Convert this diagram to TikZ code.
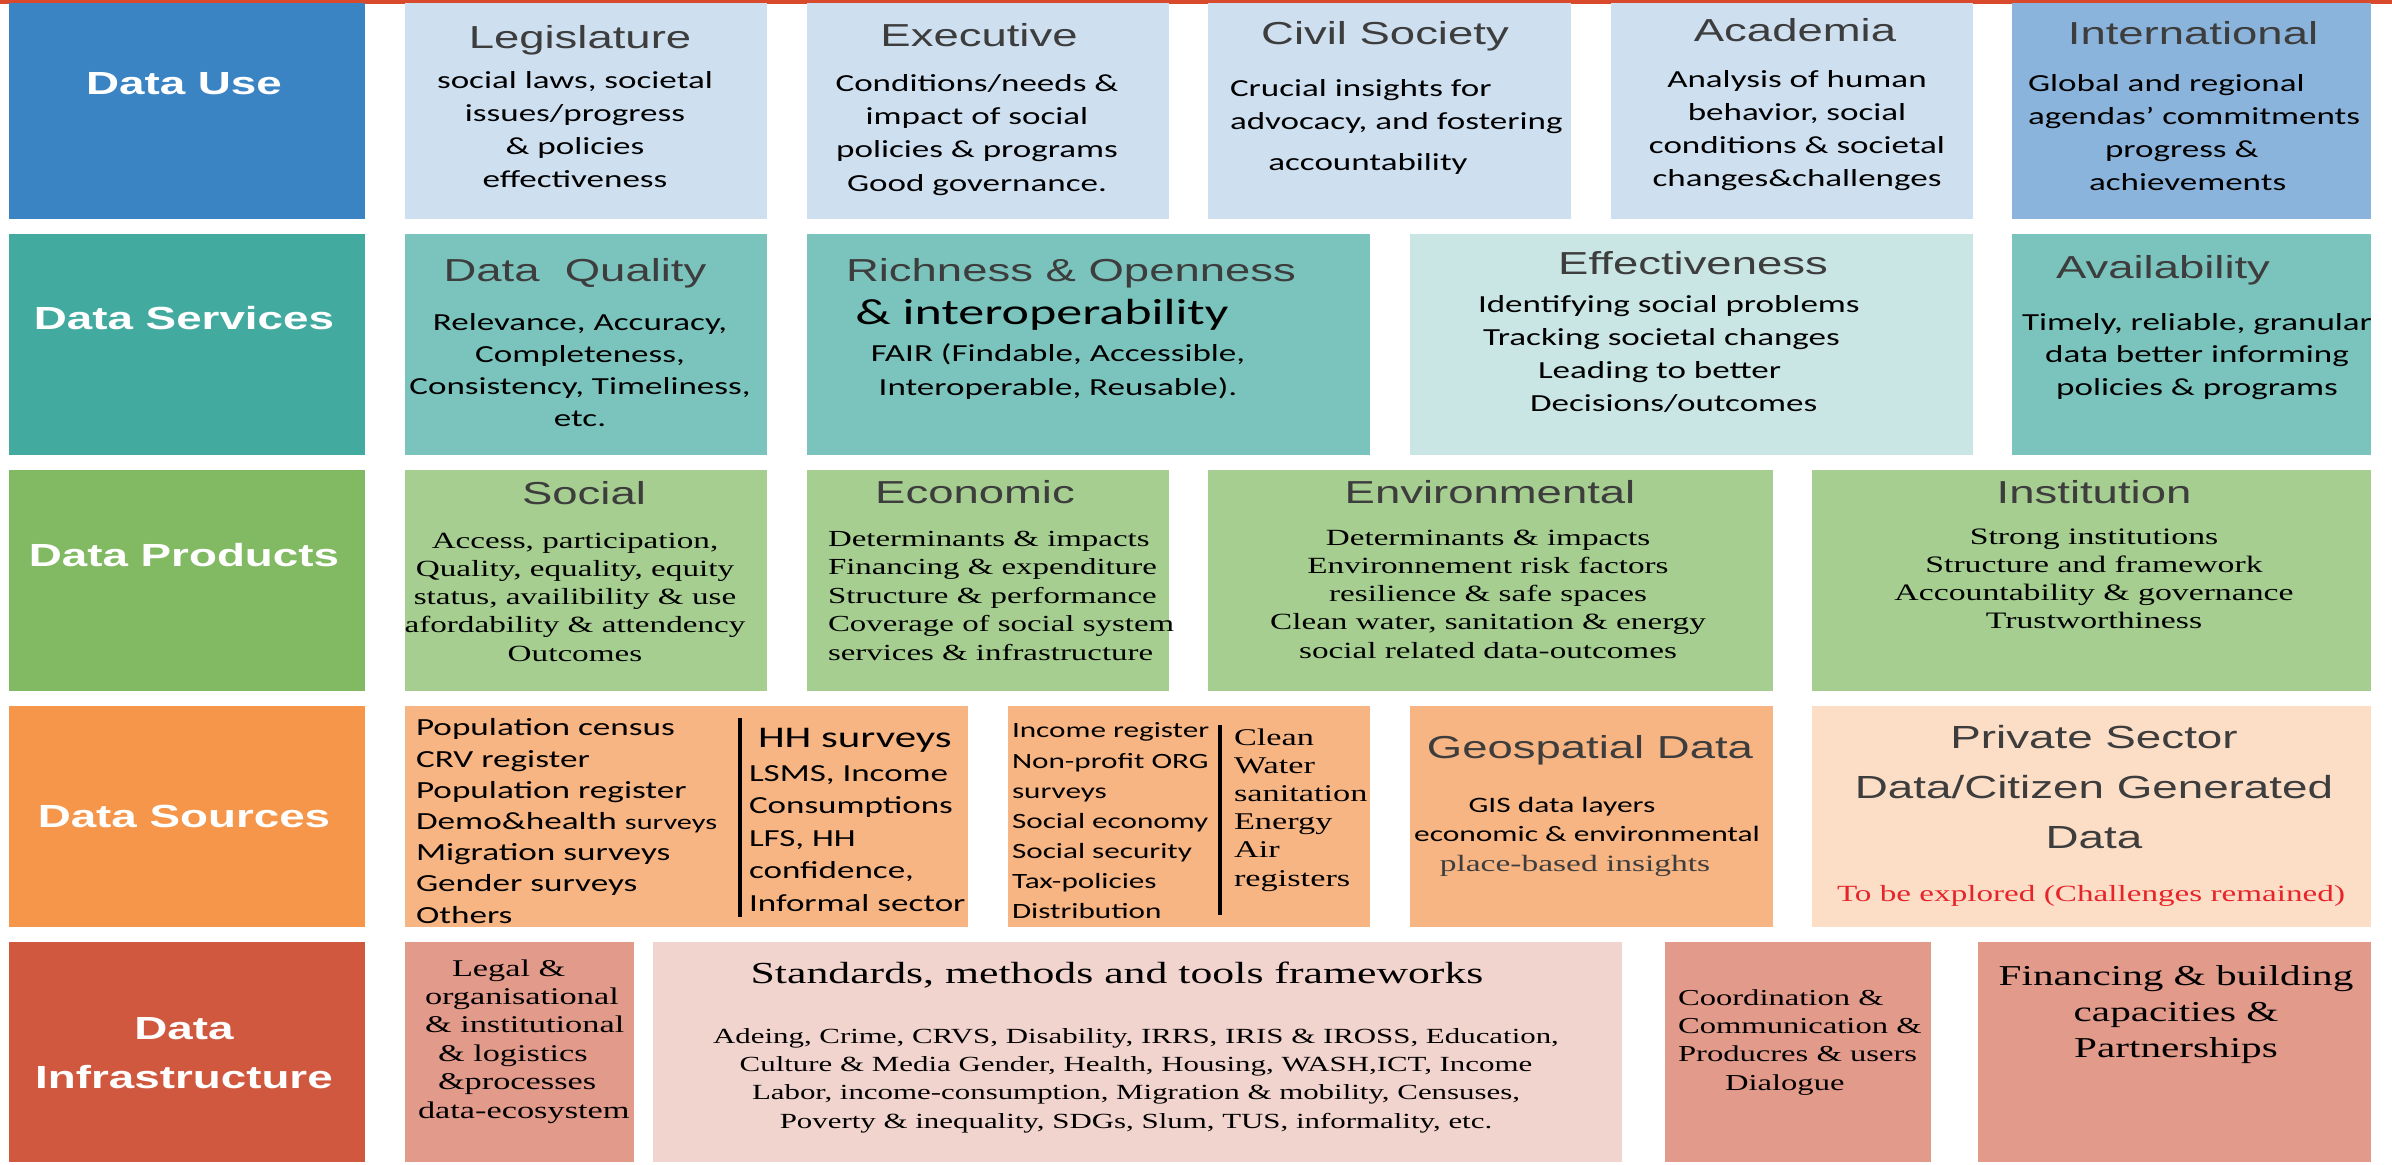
\documentclass[tikz,border=0pt]{standalone}
\usepackage{fontspec}
\setmainfont{Carlito}[FakeStretch=1.43]
\newfontfamily\headface{Liberation Sans}[FakeStretch=1.43]
\newfontfamily\serifface{Liberation Serif}[FakeStretch=1.43]
\definecolor{topred}{HTML}{D84A2B}
\definecolor{useL}{HTML}{3A84C4}
\definecolor{useB}{HTML}{CEDFF0}
\definecolor{useI}{HTML}{8BB4DC}
\definecolor{srvL}{HTML}{43AAA0}
\definecolor{srvB}{HTML}{7BC4BD}
\definecolor{srvE}{HTML}{C9E6E4}
\definecolor{prdL}{HTML}{82BA63}
\definecolor{prdB}{HTML}{A6CE90}
\definecolor{srcL}{HTML}{F5964B}
\definecolor{srcB}{HTML}{F8B584}
\definecolor{srcP}{HTML}{FCDEC7}
\definecolor{infL}{HTML}{D0583F}
\definecolor{infB}{HTML}{E29A8B}
\definecolor{infS}{HTML}{F2D4CE}
\definecolor{headgray}{HTML}{3D3D3D}
\definecolor{redtxt}{HTML}{E8242B}
\newcommand\cell[6]{%
  \pgfmathsetmacro\cellW{(#5-#3)*0.5}%
  \pgfmathsetmacro\cellH{(#6-#4)*0.5}%
  \node[cellbox,fill=#2,minimum width=\cellW pt,minimum height=\cellH pt] (#1) at (#3,#4) {};}
\tikzset{
  cellbox/.style={draw=none,inner sep=0,outer sep=0,anchor=north west},
  tc/.style={inner sep=0,outer sep=0,anchor=base,align=center},
  tl/.style={inner sep=0,outer sep=0,anchor=base west,align=left},
  cal/.style n args={2}{font=\fontsize{#1}{#2}\selectfont},
  ser/.style n args={2}{font=\serifface\fontsize{#1}{#2}\selectfont},
  hd/.style n args={2}{font=\headface\fontsize{#1}{#2}\selectfont,text=headgray},
  lab/.style={tc,font=\headface\bfseries\fontsize{16}{24.5}\selectfont,text=white},
  sepline/.style={line width=2pt,black},
}
\begin{document}
\begin{tikzpicture}[x=0.5pt,y=-0.5pt]
\useasboundingbox (0,0) rectangle (2392,1164);
\fill[white] (0,0) rectangle (2392,1164);
\fill[topred] (0,0) rectangle (2392,3.5);
% row 1
\cell{bUse}{useL}{9}{3}{365}{219}
\cell{bLeg}{useB}{405}{3}{767}{219}
\cell{bExe}{useB}{807}{3}{1169}{219}
\cell{bCiv}{useB}{1208}{3}{1571}{219}
\cell{bAca}{useB}{1611}{3}{1973}{219}
\cell{bInt}{useI}{2012}{3}{2371}{219}
% row 2
\cell{bSrv}{srvL}{9}{234}{365}{455}
\cell{bDQ}{srvB}{405}{234}{767}{455}
\cell{bRich}{srvB}{807}{234}{1370}{455}
\cell{bEff}{srvE}{1410}{234}{1973}{455}
\cell{bAv}{srvB}{2012}{234}{2371}{455}
% row 3
\cell{bPrd}{prdL}{9}{470}{365}{691}
\cell{bSoc}{prdB}{405}{470}{767}{691}
\cell{bEco}{prdB}{807}{470}{1169}{691}
\cell{bEnv}{prdB}{1208}{470}{1773}{691}
\cell{bIns}{prdB}{1812}{470}{2371}{691}
% row 4
\cell{bSrc}{srcL}{9}{706}{365}{927}
\cell{bS1}{srcB}{405}{706}{968}{927}
\cell{bS2}{srcB}{1008}{706}{1370}{927}
\cell{bGeo}{srcB}{1410}{706}{1773}{927}
\cell{bPrv}{srcP}{1812}{706}{2371}{927}
% row 5
\cell{bInf}{infL}{9}{942}{365}{1162}
\cell{bLegal}{infB}{405}{942}{634}{1162}
\cell{bStd}{infS}{653}{942}{1622}{1162}
\cell{bCrd}{infB}{1665}{942}{1931}{1162}
\cell{bFin}{infB}{1978}{942}{2371}{1162}

% ---- row 1 text (multi-line nodes are placed by the baseline of their last line)
\node[lab] (lUse) at (184,94.5) {Data Use};
\node[tc,hd={15.9}{19}] (hLeg) at (580,48) {Legislature};
\node[tc,cal={12.25}{16.35}] (tLeg) at (575,187) {social laws, societal\\issues/progress\\\& policies\\effectiveness};
\node[tc,hd={15.9}{19}] (hExe) at (979,46.5) {Executive};
\node[tc,cal={12.25}{16.65}] (tExe) at (977,191) {Conditions/needs \&\\impact of social\\policies \& programs\\Good governance.};
\node[tc,hd={15.9}{19}] (hCiv) at (1385,44.5) {Civil Society};
\node[tl,cal={12.25}{16.5}] (tCiv) at (1230,129) {Crucial insights for\\advocacy, and fostering};
\node[tc,cal={12.25}{16}] (tCiv3) at (1368,170) {accountability};
\node[tc,hd={15.9}{19}] (hAca) at (1795,41.5) {Academia};
\node[tc,cal={12.25}{16.35}] (tAca) at (1797,186) {Analysis of human\\behavior, social\\conditions \& societal\\changes\&challenges};
\node[tc,hd={15.9}{19}] (hInt) at (2193,44.5) {International};
\node[tl,cal={12.25}{16.5}] (tInt) at (2028,190) {Global and regional\\agendas' commitments\\\hspace*{38.5pt}progress \&\\\hspace*{30.5pt}achievements};

% ---- row 2 text
\node[lab] (lSrv) at (184,329.5) {Data Services};
\node[tc,hd={15.9}{19}] (hDQ) at (575,281.5) {Data\ \ Quality};
\node[tc,cal={12.25}{16}] (tDQ) at (580,426) {Relevance, Accuracy,\\Completeness,\\Consistency, Timeliness,\\etc.};
\node[tc,hd={15.9}{19}] (hRich) at (1071,281.5) {Richness \& Openness};
\node[tc,cal={18.2}{22}] (hInter) at (1042,324.5) {\& interoperability};
\node[tc,cal={12.25}{17}] (tRich) at (1058,395) {FAIR (Findable, Accessible,\\Interoperable, Reusable).};
\node[tc,hd={15.9}{19}] (hEff) at (1693,274.5) {Effectiveness};
\node[tl,cal={12.25}{16.35}] (tEff) at (1478,411) {Identifying social problems\\\hspace*{2.5pt}Tracking societal changes\\\hspace*{30pt}Leading to better\\\hspace*{26pt}Decisions/outcomes};
\node[tc,hd={15.9}{19}] (hAv) at (2163,278.5) {Availability};
\node[tc,cal={12.25}{16.25}] (tAv) at (2197,395) {Timely, reliable, granular\\data better informing\\policies \& programs};

% ---- row 3 text
\node[lab] (lPrd) at (184,566.5) {Data Products};
\node[tc,hd={15.9}{19}] (hSoc) at (584,504.5) {Social};
\node[tc,ser={11.6}{14.1}] (tSoc) at (575,661) {Access, participation,\\Quality, equality, equity\\status, availibility \& use\\afordability \& attendency\\Outcomes};
\node[tc,hd={15.9}{19}] (hEco) at (975,503.5) {Economic};
\node[tl,ser={11.5}{14.25}] (tEco) at (828,660) {Determinants \& impacts\\Financing \& expenditure\\Structure \& performance\\Coverage of social system\\services \& infrastructure};
\node[tc,hd={15.9}{19}] (hEnv) at (1490,503.5) {Environmental};
\node[tc,ser={11.6}{14.1}] (tEnv) at (1488,658) {Determinants \& impacts\\Environnement risk factors\\resilience \& safe spaces\\Clean water, sanitation \& energy\\social related data-outcomes};
\node[tc,hd={15.9}{19}] (hIns) at (2094,503.5) {Institution};
\node[tc,ser={11.8}{14}] (tIns) at (2094,628) {Strong institutions\\Structure and framework\\Accountability \& governance\\Trustworthiness};

% ---- row 4 text
\node[lab] (lSrc) at (184,827.5) {Data Sources};
\node[tl,cal={12.3}{15.6}] (tS1) at (416,923) {Population census\\CRV register\\Population register\\Demo\&health {\fontsize{10.6}{15.6}\selectfont surveys}\\Migration surveys\\Gender surveys\\Others};
\coordinate (s1a) at (740,718);
\coordinate (s1b) at (740,917);
\draw[sepline] (s1a) -- (s1b);
\node[tl,cal={15}{18}] (hHH) at (758,747) {HH surveys};
\node[tl,cal={12.25}{16.25}] (tHH) at (749,911) {LSMS, Income\\Consumptions\\LFS, HH\\confidence,\\Informal sector};
\node[tl,cal={10.9}{15.05}] (tS2) at (1012,918.5) {Income register\\Non-profit ORG\\surveys\\Social economy\\Social security\\Tax-policies\\Distribution};
\coordinate (s2a) at (1220,725);
\coordinate (s2b) at (1220,915);
\draw[sepline] (s2a) -- (s2b);
\node[tl,ser={12}{14.1}] (tS2r) at (1234,886) {Clean\\Water\\sanitation\\Energy\\Air\\registers};
\node[tc,hd={15.9}{19}] (hGeo) at (1590,758.5) {Geospatial Data};
\node[tc,cal={11}{14.5}] (tGeo1) at (1562,812) {GIS data layers};
\node[tc,cal={11}{14.5}] (tGeo2) at (1587,841) {economic \& environmental};
\node[tc,ser={11.7}{14}] (tGeo3) at (1575,871) {\color{headgray}place-based insights};
\node[tc,hd={16}{25}] (hPrv) at (2094,848.5) {Private Sector\\Data/Citizen Generated\\Data};
\node[tc,ser={11.6}{14},text=redtxt] (tPrv) at (2091,901) {To be explored (Challenges remained)};

% ---- row 5 text
\node[lab] (lInf) at (184,1088.5) {Data\\Infrastructure};
\node[tl,ser={12}{14.2}] (tLegal) at (418,1118) {\hspace*{17pt}Legal \&\\\hspace*{3.5pt}organisational\\\hspace*{3.5pt}\& institutional\\\hspace*{10pt}\& logistics\\\hspace*{10pt}\&processes\\data-ecosystem};
\node[tc,ser={15.3}{18}] (hStd) at (1117,983) {Standards, methods and tools frameworks};
\node[tc,ser={10.8}{14.15}] (tStd) at (1136,1128) {Adeing, Crime, CRVS, Disability, IRRS, IRIS \& IROSS, Education,\\Culture \& Media Gender, Health, Housing, WASH,ICT, Income\\Labor, income-consumption, Migration \& mobility, Censuses,\\Poverty \& inequality, SDGs, Slum, TUS, informality, etc.};
\node[tl,ser={11.4}{14.15}] (tCrd) at (1678,1090) {Coordination \&\\Communication \&\\Producres \& users\\\hspace*{23.5pt}Dialogue};
\node[tc,ser={14.4}{18}] (tFin) at (2176,1057) {Financing \& building\\capacities \&\\Partnerships};
\end{tikzpicture}
\end{document}
